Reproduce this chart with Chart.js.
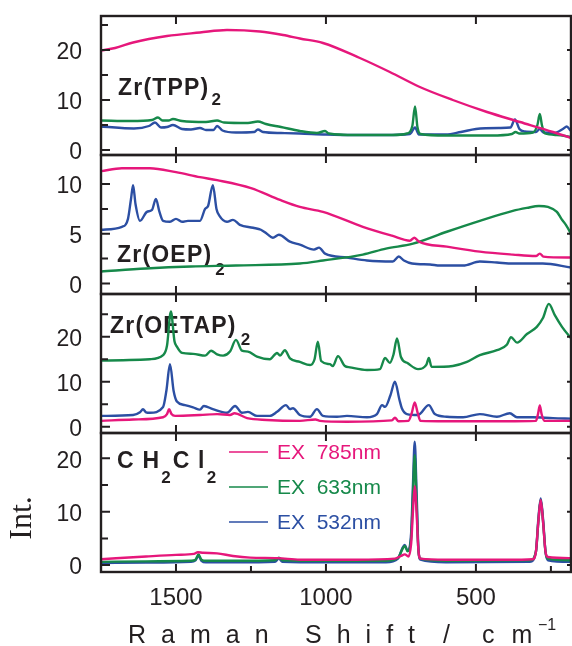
<!DOCTYPE html>
<html><head><meta charset="utf-8">
<script src="https://cdn.jsdelivr.net/npm/chart.js@4/dist/chart.umd.min.js"></script>
<style>html,body{margin:0;padding:0;background:#fff;}canvas{display:block;}</style>
</head><body>
<canvas id="c" width="572" height="646"></canvas>
<script>
// ---------- labels ----------
const seriesLabels = ['EX  785nm', 'EX  633nm', 'EX  532nm'];
const panelNames = ['Zr(TPP)', 'Zr(OEP)', 'Zr(OETAP)', 'CH2Cl2'];
const xTickValues = [500, 1000, 1500];
const xMinorValues = [250, 750, 1250];
const xRange = [183, 1750];

// ---------- Zr(TPP)2 ----------
const tppPinkX = [1750,1703,1643,1530,1420,1330,1220,1143,1087,1010,887,787,687,577,463,353,243,183];
const tppPinkY = [19.9,20.4,21.5,22.8,23.5,24.0,23.7,23.0,22.3,21.4,18.4,15.6,12.6,10.0,7.6,5.6,3.6,2.4];
const tppGreenX = [1750,1650,1580,1560,1545,1525,1510,1480,1400,1363,1340,1260,1227,1200,1150,1087,1030,1003,990,900,780,730,712,703,695,685,600,450,380,368,355,310,295,287,280,270,230,183];
const tppGreenY = [5.9,5.8,6.0,6.5,5.9,5.9,6.2,5.8,5.6,5.9,5.5,5.4,5.7,5.2,4.6,3.8,3.4,3.8,3.3,3.0,3.0,3.3,4.8,8.7,4.6,3.2,2.9,2.9,3.2,3.6,3.3,3.5,5.0,7.2,5.0,3.3,3.0,2.6];
const tppBlueX = [1750,1640,1590,1570,1550,1530,1510,1480,1450,1420,1400,1375,1363,1345,1300,1240,1227,1210,1150,1087,1000,900,800,720,703,690,600,550,500,420,385,370,355,337,300,287,275,240,210,197,186,183];
const tppBlueY = [4.7,4.3,4.8,5.5,4.5,4.6,5.0,4.2,4.1,4.4,4.0,4.0,4.8,3.9,3.5,3.6,4.1,3.6,3.4,3.3,3.1,3.0,3.0,3.2,4.5,3.1,3.1,3.6,4.2,4.4,4.5,6.1,4.2,3.7,3.6,4.2,3.5,3.4,4.2,4.7,4.0,3.8];

// ---------- Zr(OEP)2 ----------
const oepPinkX = [1750,1680,1587,1500,1420,1363,1250,1153,1087,1010,877,780,720,705,690,597,487,377,300,287,275,183];
const oepPinkY = [11.3,11.6,11.6,11.2,10.7,10.4,9.6,8.4,7.7,7.2,5.7,4.8,4.3,4.6,4.2,3.7,3.2,2.9,2.75,3.0,2.7,2.6];
const oepGreenX = [1750,1600,1450,1300,1087,1010,877,800,710,597,487,377,330,290,260,230,215,200,187,183];
const oepGreenY = [1.2,1.5,1.7,1.8,2.0,2.3,2.9,3.5,4.0,5.2,6.3,7.3,7.6,7.8,7.7,7.2,6.5,5.9,5.2,4.9];
const oepBlueX = [1750,1680,1660,1650,1643,1635,1620,1597,1580,1567,1555,1543,1520,1500,1480,1460,1420,1403,1393,1377,1365,1355,1330,1310,1287,1243,1217,1197,1177,1157,1120,1087,1040,1023,1003,930,863,777,757,740,713,653,620,543,487,430,377,277,183];
const oepBlueY = [5.4,5.7,6.5,8.5,9.9,8.0,6.3,7.2,7.4,8.5,7.2,6.3,6.2,6.5,6.2,6.3,6.3,7.5,7.8,9.9,7.5,6.8,6.2,6.4,5.9,5.6,5.4,5.0,4.6,4.9,4.2,3.9,3.4,3.6,3.0,2.6,2.3,2.2,2.7,2.3,2.0,1.9,1.8,1.8,2.2,2.1,2.0,2.0,1.6];

// ---------- Zr(OETAP)2 ----------
const oetapPinkX = [1750,1643,1543,1530,1523,1515,1503,1420,1363,1320,1305,1263,1197,1087,1035,1020,930,780,770,758,725,714,704,694,685,600,400,300,293,287,281,272,183];
const oetapPinkY = [1.3,1.6,2.1,2.8,3.9,2.8,2.4,2.6,2.8,2.6,3.0,1.9,1.5,1.3,1.6,1.3,1.1,1.4,2.0,1.2,1.3,3.0,5.4,3.0,1.3,1.2,1.2,1.3,2.8,4.7,2.8,1.3,1.3];
const oetapGreenX = [1750,1587,1543,1530,1517,1505,1497,1480,1443,1403,1383,1363,1343,1320,1300,1280,1260,1230,1187,1163,1153,1137,1120,1087,1053,1038,1027,1016,987,977,960,937,920,863,820,803,787,775,763,750,727,693,665,657,648,577,530,487,430,397,383,363,330,297,277,257,237,213,187,183];
const oetapGreenY = [14.7,15.0,15.9,18.0,25.6,19.0,17.8,16.4,16.2,15.8,16.9,16.1,15.8,16.7,19.3,16.9,16.7,15.6,15.0,16.4,15.8,17.0,15.2,14.4,13.7,15.0,18.9,14.6,13.9,13.5,15.7,13.5,13.2,12.6,12.8,15.3,14.2,16.0,19.6,15.5,14.1,12.8,13.8,15.3,13.3,13.5,14.4,15.9,17.0,18.2,19.9,18.7,20.6,22.2,24.1,27.3,24.8,22.2,20.0,19.7];
const oetapBlueX = [1750,1643,1620,1610,1600,1587,1543,1532,1520,1508,1497,1470,1443,1420,1407,1377,1330,1303,1280,1260,1230,1187,1163,1133,1120,1110,1087,1053,1030,1010,963,930,863,830,813,803,785,770,755,747,730,693,657,637,597,543,487,430,387,363,310,243,183];
const oetapBlueY = [2.4,2.6,3.2,3.9,3.2,3.1,4.4,8.0,13.9,8.0,5.6,4.8,4.3,3.8,4.6,3.9,3.1,4.6,3.1,3.3,2.4,2.4,3.3,4.8,3.9,4.1,2.6,2.2,3.9,2.4,2.2,2.4,2.1,2.8,4.8,4.4,7.0,10.0,6.0,4.1,2.8,2.6,4.8,2.8,2.2,2.1,2.8,2.2,3.0,2.1,2.1,1.9,1.8];

// ---------- CH2Cl2 ----------
const chPinkX = [1750,1600,1500,1440,1427,1410,1363,1310,1253,1160,1087,900,770,750,737,725,716,710,704,698,692,685,600,400,310,300,292,284,276,268,260,183];
const chPinkY = [1.1,1.6,1.9,2.1,2.4,2.3,2.2,1.7,1.4,1.3,1.0,1.0,1.2,1.7,2.0,1.6,4.0,10.0,14.8,10.0,3.0,1.2,1.0,1.0,1.1,2.5,8.0,12.2,8.0,2.5,1.5,1.3];
const chGreenX = [1750,1600,1450,1435,1425,1415,1400,1300,1170,1157,1145,1000,800,760,745,737,728,716,710,704,698,692,685,600,320,300,292,284,276,268,260,183];
const chGreenY = [0.6,0.7,0.8,1.0,2.0,1.0,0.8,0.8,0.9,1.4,0.9,0.8,0.8,1.3,3.0,3.6,2.6,5.0,13.0,20.6,12.0,3.0,1.2,0.8,0.9,2.5,8.0,12.2,8.0,2.5,1.2,0.9];
const chBlueX = [1750,1600,1450,1435,1425,1415,1400,1300,1170,1157,1145,1000,800,760,745,737,728,716,710,704,698,692,685,600,320,300,292,284,276,268,260,183];
const chBlueY = [0.4,0.45,0.6,0.9,1.7,0.8,0.5,0.5,0.6,1.2,0.6,0.5,0.5,1.2,3.2,3.75,2.7,6.0,15.0,23.1,14.0,3.5,1.0,0.5,0.6,2.5,8.5,12.5,8.5,2.5,0.9,0.6];

// ---------- axis ranges / ticks per panel ----------
const yRangeTPP = [-1, 26.8],   yMajorTPP = [0, 10, 20],  yMinorTPP = [5, 15, 25];
const yRangeOEP = [-1.07, 12.93], yMajorOEP = [0, 5, 10], yMinorOEP = [2.5, 7.5];
const yRangeOETAP = [-1.4, 29.5], yMajorOETAP = [0, 10, 20], yMinorOETAP = [5, 15, 25];
const yRangeCH = [-1.3, 24.75], yMajorCH = [0, 10, 20], yMinorCH = [5, 15];

// ---------- styling ----------
const COLORS = ['#e6177b', '#16894a', '#2c4fa3'];
const INK = '#231f20';
const FONT = "'Liberation Sans', Arial, sans-serif";

const panels = [
  {id: 'yA', range: yRangeTPP, majors: yMajorTPP, minors: yMinorTPP, weight: 4,
   series: [[tppPinkX, tppPinkY], [tppGreenX, tppGreenY], [tppBlueX, tppBlueY]]},
  {id: 'yB', range: yRangeOEP, majors: yMajorOEP, minors: yMinorOEP, weight: 3,
   series: [[oepPinkX, oepPinkY], [oepGreenX, oepGreenY], [oepBlueX, oepBlueY]]},
  {id: 'yC', range: yRangeOETAP, majors: yMajorOETAP, minors: yMinorOETAP, weight: 2,
   series: [[oetapPinkX, oetapPinkY], [oetapGreenX, oetapGreenY], [oetapBlueX, oetapBlueY]]},
  {id: 'yD', range: yRangeCH, majors: yMajorCH, minors: yMinorCH, weight: 1,
   series: [[chPinkX, chPinkY], [chGreenX, chGreenY], [chBlueX, chBlueY]]}
];

const datasets = [];
panels.forEach(p => {
  p.series.forEach((s, i) => {
    datasets.push({
      label: seriesLabels[i],
      yAxisID: p.id,
      data: s[0].map((x, k) => ({x: x, y: s[1][k]})),
      borderColor: COLORS[i],
      borderWidth: 2.4,
      pointRadius: 0,
      fill: false,
      cubicInterpolationMode: 'monotone',
      order: i
    });
  });
});

const scales = {
  x: {
    type: 'linear', position: 'bottom', reverse: true,
    min: xRange[0], max: xRange[1],
    afterBuildTicks: s => { s.ticks = xTickValues.map(v => ({value: v})); },
    afterFit: s => { s.height = 74; s.paddingLeft = 0; s.paddingRight = 0; },
    grid: {display: false, drawTicks: false},
    border: {display: false},
    ticks: {padding: 12, maxRotation: 0, autoSkip: false, color: INK,
            font: {family: FONT, size: 24}, callback: v => String(v)}
  }
};
panels.forEach(p => {
  scales[p.id] = {
    type: 'linear', position: 'left', stack: 'panels', stackWeight: 1, weight: p.weight,
    min: p.range[0], max: p.range[1],
    afterBuildTicks: s => { s.ticks = p.majors.map(v => ({value: v})); },
    afterFit: s => { s.width = 101; s.paddingTop = 0; s.paddingBottom = 0; },
    grid: {display: false, drawTicks: false},
    border: {display: false},
    ticks: {padding: 19, labelOffset: 3, autoSkip: false, color: INK,
            font: {family: FONT, size: 23}, callback: v => String(v)}
  };
});

function drawParts(ctx, x, y, parts) {
  parts.forEach(pt => {
    ctx.font = pt.sub ? "bold 17px " + FONT : "bold 23px " + FONT;
    ctx.letterSpacing = pt.sub ? '0px' : '1.2px';
    const yy = pt.sub ? y + pt.dy : y;
    ctx.fillText(pt.t, x, yy);
    x += ctx.measureText(pt.t).width + (pt.gap || 0);
  });
  ctx.letterSpacing = '0px';
}

const decorations = {
  id: 'decorations',
  beforeDatasetsDraw(chart) {
    const ctx = chart.ctx, a = chart.chartArea, sc = chart.scales;
    ctx.save();
    ctx.fillStyle = INK;
    ctx.textBaseline = 'alphabetic';
    ctx.textAlign = 'left';
    drawParts(ctx, a.left + 17, sc.yA.top + 79, [{t: 'Zr(TPP)', gap: 2}, {t: '2', sub: true, dy: 10}]);
    drawParts(ctx, a.left + 16, sc.yB.top + 107, [{t: 'Zr(OEP)', gap: 3}, {t: '2', sub: true, dy: 13}]);
    drawParts(ctx, a.left + 9, sc.yC.top + 39, [{t: 'Zr(OETAP)', gap: 4}, {t: '2', sub: true, dy: 12}]);
    drawParts(ctx, a.left + 16, sc.yD.top + 35, [
      {t: 'C H', gap: 1}, {t: '2', sub: true, dy: 15, gap: 2},
      {t: 'C l', gap: 1}, {t: '2', sub: true, dy: 15}]);
    ctx.restore();
  },
  afterDatasetsDraw(chart) {
    const ctx = chart.ctx, a = chart.chartArea, sc = chart.scales, xs = sc.x;
    ctx.save();
    ctx.strokeStyle = INK;
    ctx.lineCap = 'butt';
    panels.forEach((p, idx) => {
      const s = sc[p.id];
      ctx.lineWidth = 2;
      ctx.beginPath();
      p.majors.forEach(v => {
        const y = s.getPixelForValue(v);
        ctx.moveTo(a.left, y); ctx.lineTo(a.left + 9, y);
        ctx.moveTo(a.right, y); ctx.lineTo(a.right - 4, y);
      });
      p.minors.forEach(v => {
        const y = s.getPixelForValue(v);
        ctx.moveTo(a.left, y); ctx.lineTo(a.left + 7, y);
      });
      xTickValues.forEach(v => {
        const x = xs.getPixelForValue(v);
        ctx.moveTo(x, s.top); ctx.lineTo(x, s.top + 8);
        ctx.moveTo(x, s.bottom); ctx.lineTo(x, s.bottom - 8);
      });
      if (idx === panels.length - 1) {
        xMinorValues.forEach(v => {
          const x = xs.getPixelForValue(v);
          ctx.moveTo(x, s.bottom); ctx.lineTo(x, s.bottom - 6);
        });
      }
      ctx.stroke();
      ctx.lineWidth = 2.4;
      ctx.strokeRect(a.left, s.top, a.right - a.left, s.bottom - s.top);
    });
    ctx.restore();
  },
  afterDraw(chart) {
    const ctx = chart.ctx, a = chart.chartArea, sc = chart.scales;
    ctx.save();
    // legend
    const top = sc.yD.top;
    seriesLabels.forEach((lab, i) => {
      const y = top + 19 + i * 35;
      ctx.strokeStyle = COLORS[i];
      ctx.lineWidth = 1.5;
      ctx.beginPath(); ctx.moveTo(a.left + 128, y); ctx.lineTo(a.left + 167, y); ctx.stroke();
      ctx.fillStyle = COLORS[i];
      ctx.font = "21px " + FONT;
      ctx.textBaseline = 'middle';
      ctx.textAlign = 'left';
      ctx.fillText(lab, a.left + 176, y + 1);
    });
    // x title
    ctx.fillStyle = INK;
    ctx.textBaseline = 'alphabetic';
    ctx.textAlign = 'left';
    ctx.font = "25px " + FONT;
    ctx.letterSpacing = '15px';
    ctx.fillText('Raman', 128, 643);
    ctx.fillText('Shift', 305, 643);
    ctx.fillText('/', 443, 643);
    ctx.letterSpacing = '17px';
    ctx.fillText('cm', 482, 643);
    ctx.letterSpacing = '0px';
    ctx.font = "16px " + FONT;
    ctx.fillText('\u22121', 538, 630);
    // y title
    ctx.font = "32px 'Liberation Serif', 'Times New Roman', serif";
    ctx.textAlign = 'center';
    ctx.textBaseline = 'middle';
    ctx.translate(23, 518);
    ctx.rotate(-Math.PI / 2);
    ctx.fillText('Int.', 0, 0);
    ctx.restore();
  }
};

new Chart(document.getElementById('c'), {
  type: 'line',
  data: {datasets: datasets},
  options: {
    responsive: false,
    devicePixelRatio: 1,
    animation: false,
    layout: {padding: {top: 16, right: 1, left: 0, bottom: 0}},
    plugins: {legend: {display: false}, tooltip: {enabled: false}},
    scales: scales
  },
  plugins: [decorations]
});
</script>
</body></html>
